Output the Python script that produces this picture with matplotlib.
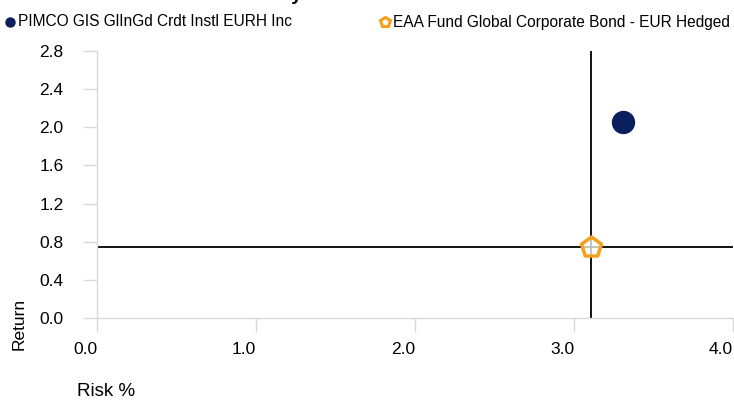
import matplotlib
matplotlib.use("Agg")
import matplotlib.pyplot as plt
from matplotlib.lines import Line2D

plt.rcParams['font.family'] = ['Liberation Sans', 'DejaVu Sans']

# data
fund_names = ["PIMCO GIS GlInGd Crdt Instl EURH Inc", "EAA Fund Global Corporate Bond - EUR Hedged"]
risk = [3.31, 3.11]
ret = [2.06, 0.74]
colors = ['#0b1f5c', '#f5a01c']
markers = ['o', 'p']
x_ticks = [0.0, 1.0, 2.0, 3.0, 4.0]
y_ticks = [0.0, 0.4, 0.8, 1.2, 1.6, 2.0, 2.4, 2.8]

fig = plt.figure(figsize=(7.34, 4.0), dpi=100)
ax = fig.add_axes([97/734, 1 - 318/400, 636/734, 267/400])

# benchmark crosshair
ax.axvline(risk[1], color='black', lw=1.3, zorder=2)
ax.axhline(ret[1], color='black', lw=1.3, zorder=2)

ax.scatter(risk[0], ret[0], s=250, color=colors[0], zorder=3)
ax.scatter(risk[1], ret[1], s=230, marker='p', facecolor=(1, 1, 1, 0.75),
           edgecolor=colors[1], linewidth=2.5, zorder=4)

ax.set_xlim(0, 4.0)
ax.set_ylim(0, 2.8)
ax.set_xticks(x_ticks)
ax.set_yticks(y_ticks)
ax.set_xticklabels(['%.1f' % v for v in x_ticks], ha='right')
ax.set_yticklabels(['%.1f' % v for v in y_ticks])
ax.tick_params(axis='both', length=10, width=1, color='#d9d9d9', labelsize=12.5)
ax.tick_params(axis='x', pad=7)
ax.tick_params(axis='y', pad=14)

for side in ['top', 'right']:
    ax.spines[side].set_visible(False)
for side in ['left', 'bottom']:
    ax.spines[side].set_color('#d9d9d9')
    ax.spines[side].set_linewidth(1)

fig.text(19/734, 1 - 350/400, "Return", rotation=90, ha='center', va='bottom', fontsize=12.5)
fig.text(77/734, 1 - 391/400, "Risk %", ha='left', va='center', fontsize=13.5)

# title (cut off at top of image)
fig.text(302/734, 1.0, "Risk-Return Summary", ha='right', va='baseline',
         fontsize=14, fontweight='bold')

# legend
leg_x = [10, 385]
for i in range(2):
    fig.add_artist(Line2D([leg_x[i]/734], [1 - 22/400], marker=markers[i], color=colors[i],
                          markersize=6.5 if i == 0 else 7, linestyle='none',
                          markerfacecolor=colors[i] if i == 0 else 'white',
                          markeredgewidth=1 if i == 0 else 2.2,
                          transform=fig.transFigure))
    fig.text((leg_x[i] + 8)/734, 1 - 22/400, fund_names[i], ha='left', va='center', fontsize=11.2)

fig.savefig("out.png", dpi=100)
